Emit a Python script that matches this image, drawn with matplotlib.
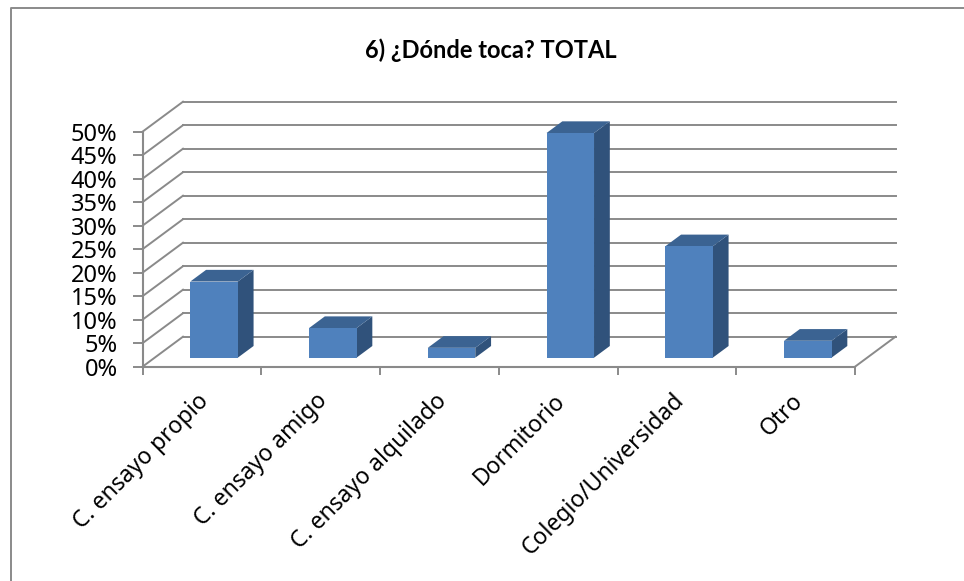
import matplotlib
matplotlib.use("Agg")
import matplotlib.pyplot as plt
from matplotlib.lines import Line2D
from matplotlib.transforms import ScaledTranslation

categories = [
    "C. ensayo propio",
    "C. ensayo amigo",
    "C. ensayo alquilado",
    "Dormitorio",
    "Colegio/Universidad",
    "Otro",
]
values = [16.2, 6.3, 2.1, 47.8, 23.7, 3.6]
y_ticks = [0, 5, 10, 15, 20, 25, 30, 35, 40, 45, 50]
title = "6) ¿Dónde toca? TOTAL"

W, H = 964, 581
LINE = "#8a8a8a"
FRONT = "#4f81bd"
TOP = "#3b6392"
SIDE = "#30527b"

plt.rcParams["font.family"] = ["Noto Sans", "DejaVu Sans"]

fig = plt.figure(figsize=(W / 100, H / 100), dpi=100)
ax = fig.add_axes([142.5 / W, 1 - 366.7 / H, 712.5 / W, 235 / H])
ax.set_xlim(0, len(categories))
ax.set_ylim(0, 50)
ax.patch.set_visible(False)

# depth of the floor in data units (about 40px across, 30px up)
depth_x = 40.5 / (712.5 / len(categories))
depth_y = 30 / (235 / 50)


def project(x, y, d):
    return x + d * depth_x, y + d * depth_y


def face(points, color):
    xs = [project(*p)[0] for p in points]
    ys = [project(*p)[1] for p in points]
    ax.fill(xs, ys, color=color, lw=0, clip_on=False, zorder=3)


# walls and floor
n = len(categories)
for y in y_ticks:
    x0, y0 = project(0, y, 0)
    x1, y1 = project(0, y, 1)
    ax.plot([x0, x1], [y0, y1], color=LINE, lw=1.4, clip_on=False, zorder=1)
    x2, y2 = project(n, y, 1)
    ax.plot([x1, x2], [y1, y2], color=LINE, lw=1.4, clip_on=False, zorder=1)
x0, y0 = project(n, 0, 0)
x1, y1 = project(n, 0, 1)
ax.plot([x0, x1], [y0, y1], color=LINE, lw=1.4, clip_on=False, zorder=1)

# bars
bar_w = 0.4
d0, d1 = 0.3, 0.69
for i, v in enumerate(values):
    left = i + 0.5 - bar_w / 2
    right = i + 0.5 + bar_w / 2
    face([(right, 0, d0), (right, 0, d1), (right, v, d1), (right, v, d0)], SIDE)
    face([(left, v, d0), (right, v, d0), (right, v, d1), (left, v, d1)], TOP)
    face([(left, 0, d0), (right, 0, d0), (right, v, d0), (left, v, d0)], FRONT)

# axes
for s in ["top", "right"]:
    ax.spines[s].set_visible(False)
for s in ["left", "bottom"]:
    ax.spines[s].set_color(LINE)
    ax.spines[s].set_linewidth(1.5)
    ax.spines[s].set_zorder(2)

ax.set_yticks(y_ticks)
ax.set_yticklabels([f"{y}%" for y in y_ticks])
ax.tick_params(axis="y", length=7, width=1.4, color=LINE, labelsize=17, pad=11)

ax.set_xticks(range(n + 1))
ax.set_xticklabels([])
ax.tick_params(axis="x", which="major", length=6, width=1.4, color=LINE)
ax.set_xticks([i + 0.5 for i in range(n)], minor=True)
ax.set_xticklabels(categories, minor=True, rotation=45, ha="right",
                   va="top", rotation_mode="anchor", fontsize=16.5)
ax.tick_params(axis="x", which="minor", length=0, pad=16)

# labels sit a little left of the category centre
shift = ScaledTranslation(-5 / 100, 0, fig.dpi_scale_trans)
for label in ax.get_xticklabels(minor=True):
    label.set_transform(label.get_transform() + shift)

fig.text(491 / W, 1 - 50 / H, title, ha="center", va="center",
         fontsize=17, fontweight="bold", family=["Lato", "DejaVu Sans"])

# chart frame: only the top and left edges are in the crop
fig.add_artist(Line2D([11 / W, 11 / W, 1], [0, 1 - 8 / H, 1 - 8 / H],
                      color=LINE, lw=1.4, transform=fig.transFigure))

fig.savefig("out.png", dpi=100)
